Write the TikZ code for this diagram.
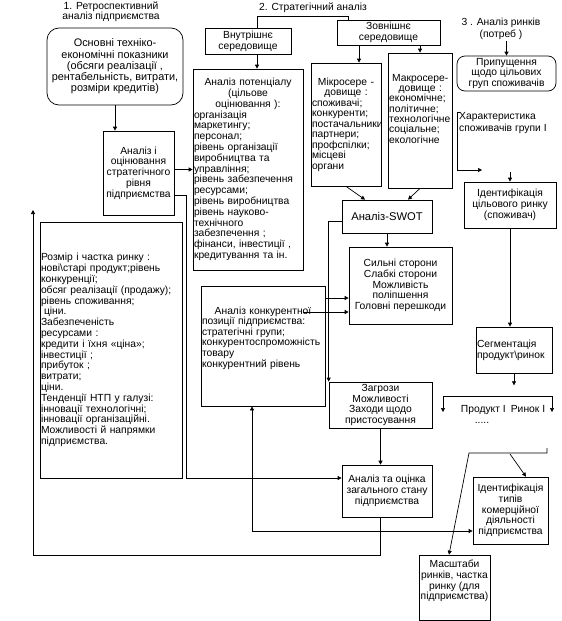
\documentclass[tikz,border=0pt]{standalone}
\usepackage{fontspec}
\setmainfont{Liberation Sans}
\usetikzlibrary{arrows.meta}
\newcommand\ctrline[1]{\noindent\null\hskip0pt plus1filll #1\hskip0pt plus1filll\null}
\begin{document}
\begin{tikzpicture}[x=1pt,y=-1pt,
  every node/.style={font=\fontsize{10.3}{10.8}\selectfont, inner sep=1pt},
  box/.style={draw, line width=0.7pt, inner sep=1pt},
  cbox/.style={box, align=center},
  lbox/.style={box, align=left},
  txt/.style={align=left, inner sep=0pt},
  link/.style={line width=0.7pt},
  arr/.style={link, -{Triangle[length=4pt,width=4pt]}},
  arrs/.style={link, {Triangle[length=4pt,width=4pt]}-{Triangle[length=4pt,width=4pt]}},
]
\fill[white] (0,0) rectangle (562,621);
\useasboundingbox (0,0) rectangle (562,621);

% titles
\node[align=center, font=\fontsize{10.3}{10.3}\selectfont] (t1) at (111,12) {1. Ретроспективний\\аналіз підприємства};
\node (t2) at (313,7.5) {2. Стратегічний аналіз};
\node[align=center, font=\fontsize{10.3}{12}\selectfont] (t3) at (501,29) {3 . Аналіз ринків\\(потреб )};

% column 1
\node[cbox, rounded corners=12pt, minimum width=136pt, minimum height=77pt, font=\fontsize{10.9}{11.3}\selectfont] (osn) at (115,66.5)
  {Основні техніко-\\економічні показники\\(обсяги реалізації ,\\рентабельність, витрати,\\розміри кредитів)};
\node[cbox, minimum width=71pt, minimum height=84pt] (ocin) at (138.5,173)
  {Аналіз і\\оцінювання\\стратегічного\\рівня\\підприємства};
\node[lbox, minimum width=142pt, minimum height=256pt, text width=140pt] (rozmir) at (111,350)
  {Розмір і частка ринку :\\нові\textbackslash старі продукт;рівень\\конкуренції;\\обсяг реалізації (продажу);\\рівень споживання;\\\hspace*{3pt}ціни.\\Забезпеченість\\ресурсами :\\кредити і їхня «ціна»;\\інвестиції ;\\прибуток ;\\витрати;\\ціни.\\Тенденції НТП у галузі:\\інновації технологічні;\\інновації організаційні.\\Можливості й напрямки\\підприємства.};

% column 2
\node[cbox, minimum width=86pt, minimum height=26pt] (vnutr) at (248,41) {Внутрішнє\\середовище};
\node[cbox, minimum width=103pt, minimum height=25pt] (zovn) at (388.5,32.5) {Зовнішнє\\середовище};
\node[lbox, minimum width=110pt, minimum height=201pt, text width=108pt] (potenc) at (248,169.5)
  {\ctrline{Аналіз потенціалу}\\\ctrline{(цільове}\\\ctrline{оцінювання ):}\\організація\\маркетингу;\\персонал;\\рівень організації\\виробництва та\\управління;\\рівень забезпечення\\ресурсами;\\рівень виробництва\\рівень науково-\\технічного\\забезпечення ;\\фінанси, інвестиції ,\\кредитування та ін.};
\node[lbox, minimum width=70pt, minimum height=123pt, text width=68pt, font=\fontsize{10.3}{10.5}\selectfont] (micro) at (346,124.5)
  {\ctrline{Мікросере -}\\\ctrline{довище :}\\споживачі;\\конкуренти;\\постачальники\\партнери;\\профспілки;\\місцеві\\органи};
\node[box, minimum width=64pt, minimum height=135pt] (macro) at (420,120.5) {};
\node[txt, anchor=north west, text width=62pt, font=\fontsize{10.3}{10.3}\selectfont] (macrotxt) at (389,74)
  {\ctrline{Макросере-}\\\ctrline{довище :}\\економічне;\\політичне;\\технологічне\\соціальне;\\екологічне};
\node[cbox, minimum width=90pt, minimum height=33pt, font=\fontsize{11.2}{11.2}\selectfont] (swot) at (387,216.5) {Аналіз-SWOT};
\node[cbox, minimum width=103pt, minimum height=77pt] (sylni) at (400.5,285.5)
  {Сильні сторони\\Слабкі сторони\\Можливість\\поліпшення\\Головні перешкоди};
\node[box, minimum width=124pt, minimum height=120pt] (konk) at (263,346) {};
\node[txt, text width=122pt, font=\fontsize{10.3}{10.6}\selectfont] (konktxt) at (263,338)
  {\ctrline{Аналіз конкурентної}\\позиції підприємства:\\стратегічні групи;\\конкурентоспроможність\\товару\\конкурентний рівень};
\node[cbox, minimum width=103pt, minimum height=46pt] (zagr) at (380.5,405)
  {Загрози\\Можливості\\Заходи щодо\\пристосування};
\node[cbox, minimum width=90pt, minimum height=52pt] (analiz) at (387,491)
  {Аналіз та оцінка\\загального стану\\підприємства};

% column 3
\node[cbox, rounded corners=8pt, minimum width=99pt, minimum height=35pt] (prypusch) at (506.5,73.5)
  {Припущення\\щодо цільових\\груп споживачів};
\node[txt, anchor=west, font=\fontsize{10.3}{11.5}\selectfont] (harakt) at (459,123) {Характеристика\\споживачів групи I};
\node[cbox, minimum width=92pt, minimum height=46pt] (identcil) at (510,205)
  {Ідентифікація\\цільового ринку\\(споживач)};
\node[lbox, minimum width=76pt, minimum height=46pt, text width=74pt] (segm) at (514,350)
  {Сегментація\\продукт\textbackslash ринок};
\node[inner sep=0pt] (prodrynok) at (503,410) {Продукт I\enspace Ринок I};
\node[inner sep=0pt] (dots) at (482,422.5) {.....};
\node[cbox, minimum width=75pt, minimum height=67pt] (identtyp) at (510.5,510.5)
  {Ідентифікація\\типів\\комерційної\\діяльності\\підприємства};
\node[box, minimum width=71pt, minimum height=65pt] (masht) at (454.5,587.5) {};
\node[align=center, inner sep=0pt] (mashttxt) at (454.5,581) {Масштаби\\ринків, частка\\ринку (для\\підприємства)};

% connectors
\draw[arr] (osn.south) -- (osn.south |- ocin.north);
\draw[arr] (ocin.east |- potenc.west) -- (potenc.west);
\coordinate (o1) at ([yshift=-22pt]ocin.east);
\coordinate (a1) at ([yshift=13pt]analiz.west);
\draw[arr] (o1) -- ++(12,0) |- (a1);
\coordinate (v1) at ([xshift=9pt]vnutr.north);
\coordinate (v2) at ([xshift=9pt]vnutr.south);
\coordinate (z1) at ([xshift=-40.5pt]zovn.north);
\draw[link] (v1) -- ++(0,-11) -| (z1);
\draw[arr] (v2) -- (v2 |- potenc.north);
\coordinate (m1) at ([xshift=13pt]micro.north);
\draw[arr] (m1 |- zovn.south) -- (m1);
\draw[arr] (macro.north |- zovn.south) -- (macro.north);
\draw[arr] (micro.south) -- ([xshift=-22pt]swot.north);
\draw[arr] (macro.south) -- ([xshift=21pt]swot.north);
\draw[arr] (swot.south) -- (swot.south |- sylni.north);
\coordinate (p1) at ([yshift=-26.5pt]sylni.west);
\draw[arr] (p1 -| potenc.east) -- (p1);
\coordinate (p2) at ([yshift=-12.5pt]sylni.west);
\draw[arr] (p2 -| konk.east) -- (p2);
\draw[arr] ([yshift=-4.5pt]swot.west) -| (zagr.north west);
\draw[arr] (zagr.south) -- (zagr.south |- analiz.north);
\coordinate (back) at (33,210);
\draw[arr] (analiz.south -| zagr.south) -- ++(0,38) -| (back);
\coordinate (k1) at ([xshift=-11pt]konk.south);
\coordinate (i1) at ([yshift=-20.5pt]identtyp.west);
\draw[arrs] (k1) |- (i1);
\draw[arr] (t3.south -| prypusch.north) -- (prypusch.north);
\coordinate (h1) at (460,112);
\coordinate (h2) at (482,170);
\draw[arr] (h1) -- ++(-3,0) |- (h2);
\coordinate (h3) at (510,172);
\draw[arr] (h3) -- (h3 |- identcil.north);
\draw[arr] (identcil.south) -- (identcil.south |- segm.north);
\coordinate (s1) at ([yshift=-12pt]segm.south);
\draw[arr] (segm.south) -- (s1);
\coordinate (bL) at (443,412);
\coordinate (bR) at (552,412);
\draw[arrs] (bL) -- ++(0,-16) -| (bR);
\coordinate (c1) at (547,448);
\draw[arr] (c1) -- ++(0,5) -- ++(-78,0) -- ([xshift=-5.5pt]masht.north);
\coordinate (c2) at (510,454);
\draw[arr] (c2) -- ([xshift=15.5pt]identtyp.north);
\end{tikzpicture}
\end{document}
